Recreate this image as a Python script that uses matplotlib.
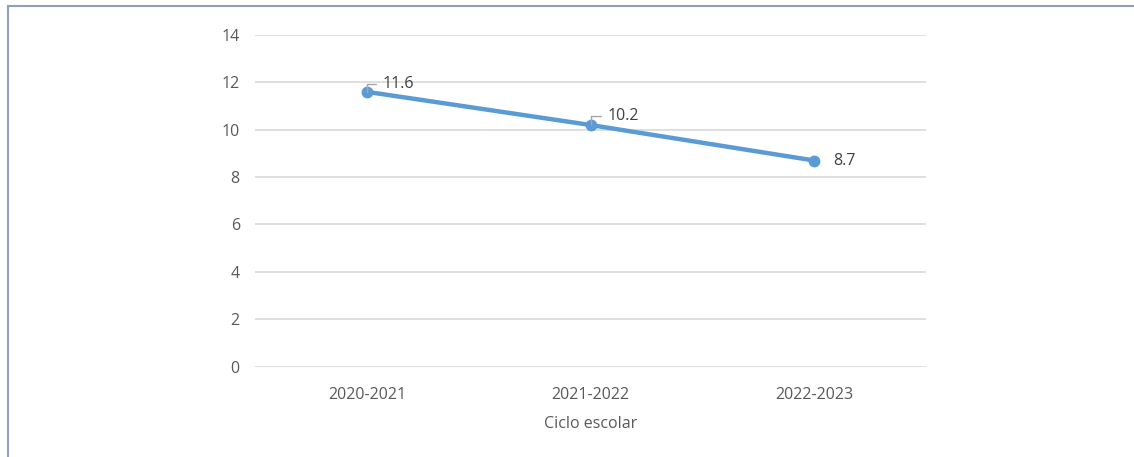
import matplotlib
matplotlib.use('Agg')
import matplotlib.pyplot as plt
from matplotlib.lines import Line2D

ciclos = ['2020-2021', '2021-2022', '2022-2023']
valores = [11.6, 10.2, 8.7]
y_ticks = [0, 2, 4, 6, 8, 10, 12, 14]

# desplazamiento de cada etiqueta de dato (puntos) y si lleva línea guía
label_offsets = [(11.5, 5.5), (12.5, 6.5), (14, 0)]
con_guia = [True, True, False]

LINE_COLOR = '#5B9BD5'
TEXT_COLOR = '#595959'
GRID_COLOR = '#D9D9D9'
FS = 11.5

plt.rcParams['font.family'] = ['Open Sans', 'DejaVu Sans']


def main():
    fig = plt.figure(figsize=(11.34, 4.57), dpi=100)
    ax = fig.add_axes([0.2249, 0.1969, 0.8166 - 0.2249, 0.9234 - 0.1969])

    x = list(range(len(ciclos)))
    ax.plot(x, valores, color=LINE_COLOR, linewidth=3.2, marker='o',
            markersize=7.5, solid_capstyle='round', zorder=3)

    for xi, v, off, guia in zip(x, valores, label_offsets, con_guia):
        props = None
        if guia:
            props = dict(arrowstyle='-', color='#A6A6A6', lw=1.0,
                         connectionstyle='angle,angleA=0,angleB=90,rad=0',
                         relpos=(0, 0.5), shrinkA=3, shrinkB=0)
        ax.annotate(f'{v:.1f}', xy=(xi, v), xytext=off,
                    textcoords='offset points', ha='left', va='center',
                    fontsize=FS, color='#404040', arrowprops=props,
                    zorder=4)

    ax.set_xlim(-0.5, len(ciclos) - 0.5)
    ax.set_ylim(-0.02, 14)
    ax.set_yticks(y_ticks)
    ax.set_xticks(x)
    ax.set_xticklabels(ciclos)
    ax.grid(axis='y', color=GRID_COLOR, linewidth=1.2)
    ax.set_axisbelow(True)
    for s in ax.spines.values():
        s.set_visible(False)
    ax.tick_params(axis='both', length=0, labelsize=FS, labelcolor=TEXT_COLOR)
    ax.tick_params(axis='x', pad=14.5)
    ax.tick_params(axis='y', pad=11)
    ax.set_xlabel('Ciclo escolar', fontsize=FS, color=TEXT_COLOR, labelpad=9)

    # marco del gráfico (arriba e izquierda)
    w, h = 1134, 457
    frame_kw = dict(color='#8EA0BC', linewidth=1.5, transform=fig.transFigure)
    fig.add_artist(Line2D([8 / w, 1], [1 - 6 / h, 1 - 6 / h], **frame_kw))
    fig.add_artist(Line2D([8 / w, 8 / w], [0, 1 - 6 / h], **frame_kw))

    fig.savefig('out.png', dpi=100, facecolor='white')


if __name__ == '__main__':
    main()
